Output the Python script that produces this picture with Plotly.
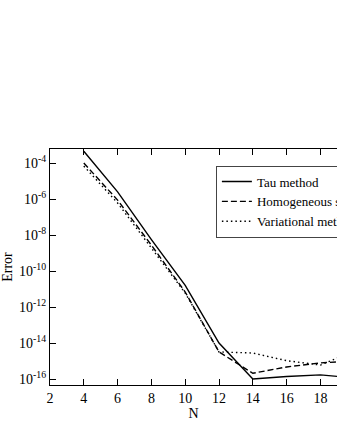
import plotly.graph_objects as go

# polynomial order N and the error of each method
n_values = [4, 6, 8, 10, 12, 14, 16, 18, 20]
tau_error = [4.5e-4, 2.5e-6, 5.6e-9, 1.6e-11, 1.0e-14, 1.0e-16, 1.4e-16, 1.7e-16, 1.15e-16]
homogeneous_error = [1.0e-4, 8.7e-7, 2.75e-9, 6.8e-12, 3.2e-15, 2.1e-16, 4.7e-16, 7.9e-16, 1.0e-15]
variational_error = [6.8e-5, 6.0e-7, 1.9e-9, 6.0e-12, 3.2e-15, 2.8e-15, 1.05e-15, 6.0e-16, 3.6e-15]

x_ticks = [2, 4, 6, 8, 10, 12, 14, 16, 18]
y_tick_vals = [1e-16, 1e-14, 1e-12, 1e-10, 1e-8, 1e-6, 1e-4]
y_tick_text = ['10<sup>-16</sup>', '10<sup>-14</sup>', '10<sup>-12</sup>', '10<sup>-10</sup>',
               '10<sup>-8</sup>', '10<sup>-6</sup>', '10<sup>-4</sup>']

font = 'Liberation Serif'

fig = go.Figure()
fig.add_trace(go.Scatter(x=n_values, y=tau_error, mode='lines', name='Tau method',
                         line=dict(color='black', width=1.4)))
fig.add_trace(go.Scatter(x=n_values, y=homogeneous_error, mode='lines', name='Homogeneous solution',
                         line=dict(color='black', width=1.4, dash='6px,3px')))
fig.add_trace(go.Scatter(x=n_values, y=variational_error, mode='lines', name='Variational method',
                         line=dict(color='black', width=1.4, dash='1.5px,3px')))

fig.update_layout(
    width=337,
    height=436,
    margin=dict(l=50, r=0, t=149, b=51, autoexpand=False),
    paper_bgcolor='white',
    plot_bgcolor='white',
    font=dict(family=font, size=14, color='black'),
    showlegend=True,
    legend=dict(
        x=0.578, y=0.93, xanchor='left', yanchor='top',
        bgcolor='white', bordercolor='#444', borderwidth=1,
        font=dict(family=font, size=13, color='black'),
        itemwidth=30, tracegroupgap=0,
    ),
    xaxis=dict(
        range=[2, 18.98],
        tickvals=x_ticks,
        tickfont=dict(family=font, size=14, color='black'),
        ticks='inside', ticklen=6, tickcolor='black',
        showline=True, linecolor='black', linewidth=1.2,
        mirror='ticks', showgrid=False, zeroline=False,
        title=dict(text='N', standoff=2, font=dict(family=font, size=14)),
    ),
    yaxis=dict(
        type='log',
        range=[-16.33, -3.22],
        tickvals=y_tick_vals,
        ticktext=y_tick_text,
        tickfont=dict(family=font, size=14, color='black'),
        ticks='inside', ticklen=6, tickcolor='black',
        showline=True, linecolor='black', linewidth=1.2,
        showgrid=False, zeroline=False,
        title=dict(text='Error', standoff=4, font=dict(family=font, size=14)),
    ),
)

fig.write_html("out.html", config={'displayModeBar': False},
               post_script="document.body.style.margin='0';document.body.style.overflow='hidden';")
